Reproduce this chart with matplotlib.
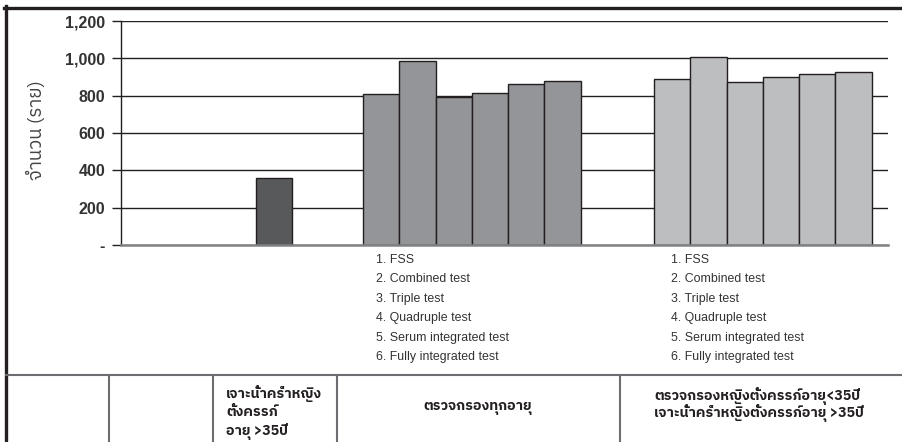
import numpy as np
import matplotlib
matplotlib.use('Agg')
import matplotlib.pyplot as plt

# Number of cases per strategy
amnio_only = [360]
screen_all = [807, 987, 791, 816, 861, 880]
screen_young_amnio_old = [888, 1005, 873, 902, 916, 929]

tests = ['FSS', 'Combined test', 'Triple test', 'Quadruple test',
         'Serum integrated test', 'Fully integrated test']
yticks = [0, 200, 400, 600, 800, 1000, 1200]
ytick_labels = ['-', '200', '400', '600', '800', '1,000', '1,200']

ylabel = 'จำนวน (ราย)'
col3_lines = ['เจาะน้ำคร่ำหญิง', 'ตั้งครรภ์', 'อายุ >35ปี']
col4_text = 'ตรวจกรองทุกอายุ'
col5_lines = ['ตรวจกรองหญิงตั้งครรภ์อายุ<35ปี', 'เจาะน้ำคร่ำหญิงตั้งครรภ์อายุ >35ปี']

latin = ['Liberation Sans', 'IBM Plex Sans Thai', 'Noto Sans Thai', 'DejaVu Sans']
thai = ['IBM Plex Sans Thai', 'Noto Sans Thai', 'Liberation Sans', 'DejaVu Sans']

W, H = 903, 442
ink = '#231f20'
rule = '#6d6e71'

fig = plt.figure(figsize=(W / 100, H / 100), dpi=100)


def fx(px):
    return px / W


def fy(py):
    return 1 - py / H


# plot area, x in pixel units so the bars line up with the table below
ax = fig.add_axes([fx(121), fy(245), fx(888) - fx(121), fy(21) - fy(245)])
ax.set_xlim(121, 888)
ax.set_ylim(0, 1200)

bw = 36.3
ax.bar([256 + bw / 2], amnio_only, width=bw, color='#58595b',
       edgecolor=ink, linewidth=1, zorder=3)
x_all = 363 + bw * (np.arange(len(screen_all)) + 0.5)
ax.bar(x_all, screen_all, width=bw, color='#939598',
       edgecolor=ink, linewidth=1, zorder=3)
x_mix = 654 + bw * (np.arange(len(screen_young_amnio_old)) + 0.5)
ax.bar(x_mix, screen_young_amnio_old, width=bw, color='#bcbec0',
       edgecolor=ink, linewidth=1, zorder=3)

ax.set_yticks(yticks)
ax.set_yticklabels(ytick_labels, family=latin, fontsize=11.5, fontweight='bold',
                   color='#333333')
ax.tick_params(axis='y', direction='out', length=6.5, width=1, color=ink, pad=5)
ax.set_xticks([])
ax.grid(axis='y', color=ink, linewidth=1, zorder=1)
for s in ['top', 'right', 'bottom']:
    ax.spines[s].set_visible(False)
ax.spines['left'].set_color(ink)
ax.spines['left'].set_linewidth(1)
ax.axhline(0, color='#808285', linewidth=1.8, zorder=4, clip_on=False)

fig.text(fx(36), fy(130), ylabel, rotation=90, ha='center', va='center',
         family=thai, fontsize=13.5, color='#444444')

# numbered test lists under each group
for x0 in [376, 671]:
    for i, t in enumerate(tests):
        fig.text(fx(x0), fy(260 + i * 19.4), '%d. %s' % (i + 1, t),
                 ha='left', va='center', family=latin, fontsize=8.9,
                 color='#333333')

# frame and table rules
lines_kw = dict(transform=fig.transFigure, clip_on=False)
fig.add_artist(plt.Line2D([fx(4), 1], [fy(7.5), fy(7.5)], color=ink,
                          linewidth=2.4, **lines_kw))
fig.add_artist(plt.Line2D([fx(6), fx(6)], [fy(6), 0], color=ink,
                          linewidth=2.4, **lines_kw))
fig.add_artist(plt.Line2D([fx(6), 1], [fy(375), fy(375)], color=rule,
                          linewidth=1.5, **lines_kw))
for xv in [109, 213, 337, 620]:
    fig.add_artist(plt.Line2D([fx(xv), fx(xv)], [fy(375), 0], color=rule,
                              linewidth=1.5, **lines_kw))

for i, t in enumerate(col3_lines):
    fig.text(fx(226), fy([393, 412, 432][i]), t, ha='left', va='center',
             family=thai, fontsize=10.2, fontweight='bold', color=ink)
fig.text(fx(478), fy(408), col4_text, ha='center', va='center',
         family=thai, fontsize=10.2, fontweight='bold', color=ink)
for i, t in enumerate(col5_lines):
    fig.text(fx(654), fy(396 + i * 17), t, ha='left', va='center',
             family=thai, fontsize=10.2, fontweight='bold', color=ink)

fig.savefig('out.png', dpi=100)
